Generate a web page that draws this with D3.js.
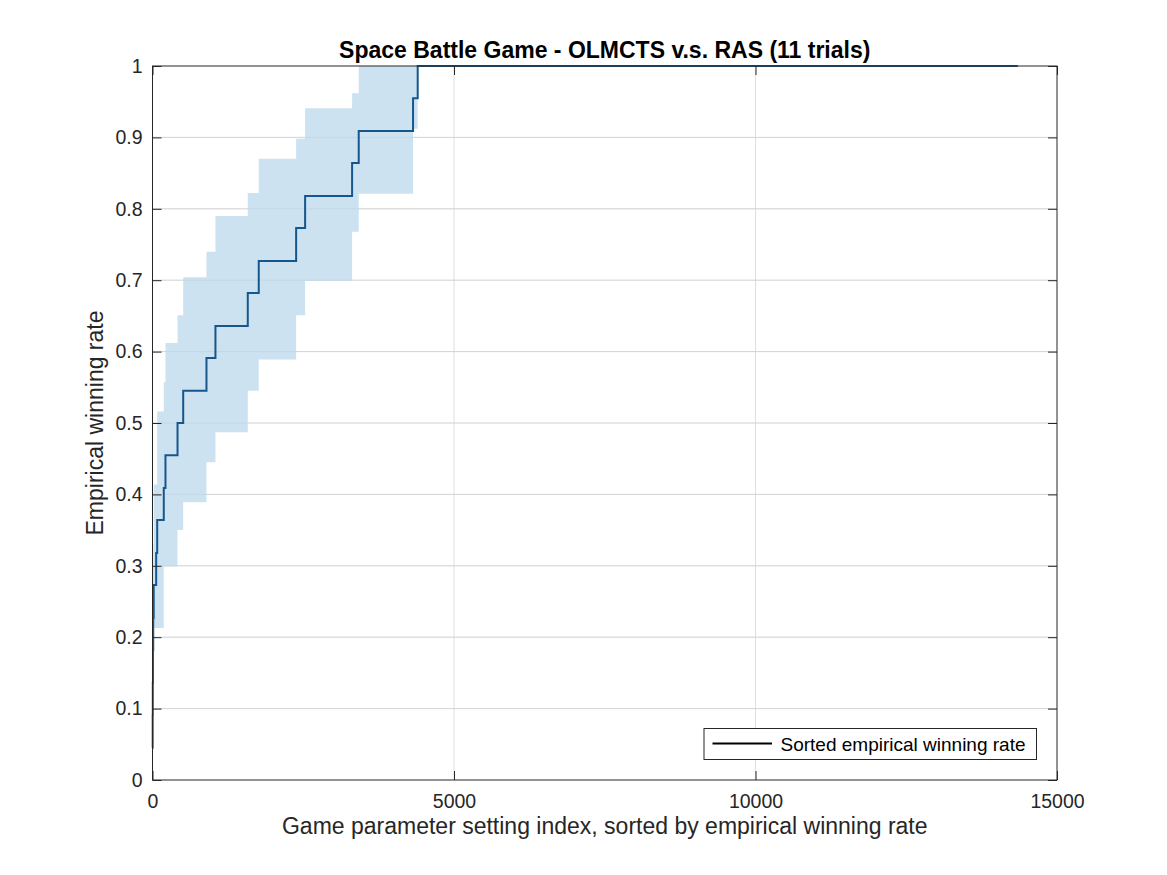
<!DOCTYPE html>
<html>
<head>
<meta charset="utf-8">
<script src="https://cdn.jsdelivr.net/npm/d3@7"></script>
<style>
  html, body { margin: 0; padding: 0; background: #fff; }
  svg { display: block; font-family: "Liberation Sans", Arial, Helvetica, sans-serif; }
</style>
</head>
<body>
<svg id="chart" width="1167" height="875"></svg>
<script>
// ---- data ----
const stepStart = [0, 3, 5, 8, 12, 20, 61, 78, 187, 215, 415, 509, 895, 1044, 1580, 1762, 2382, 2531, 3310, 3420, 4321, 4398];
const rateLevels = [0.045, 0.091, 0.136, 0.182, 0.227, 0.273, 0.318, 0.364, 0.409, 0.455, 0.5, 0.545, 0.591, 0.636, 0.682, 0.727, 0.773, 0.818, 0.864, 0.909, 0.955, 1.0];
const bandUpper = [0.20, 0.24, 0.27, 0.30, 0.33, 0.414, 0.414, 0.516, 0.557, 0.612, 0.651, 0.704, 0.740, 0.790, 0.822, 0.870, 0.898, 0.941, 0.962, 1.0, 1.0, 1.0];
const bandLower = [0.0, 0.03, 0.06, 0.09, 0.11, 0.213, 0.213, 0.213, 0.299, 0.299, 0.350, 0.389, 0.445, 0.487, 0.545, 0.589, 0.651, 0.699, 0.768, 0.821, 0.912, 1.0];
const lastIndex = 14350;
const xTicks = [0, 5000, 10000, 15000];
const yTicks = [0, 0.1, 0.2, 0.3, 0.4, 0.5, 0.6, 0.7, 0.8, 0.9, 1];
const titleText = "Space Battle Game - OLMCTS v.s. RAS (11 trials)";
const xLabel = "Game parameter setting index, sorted by empirical winning rate";
const yLabel = "Empirical winning rate";
const legendLabel = "Sorted empirical winning rate";

// ---- layout ----
const pL = 152.5, pR = 1057, pT = 66, pB = 780;
const svg = d3.select("#chart");
const x = d3.scaleLinear().domain([0, 15000]).range([pL, pR]);
const y = d3.scaleLinear().domain([0, 1]).range([pB, pT]);
const axisColor = "#262626";
const fontFam = "'Liberation Sans', Arial, Helvetica, sans-serif";

// grid
const grid = svg.append("g");
grid.selectAll("line.gx").data(xTicks.slice(1, -1)).join("line")
  .attr("x1", d => x(d)).attr("x2", d => x(d)).attr("y1", pT).attr("y2", pB)
  .attr("stroke", "#dfdfdf").attr("stroke-width", 1);
grid.selectAll("line.gy").data(yTicks.slice(1, -1)).join("line")
  .attr("y1", d => y(d)).attr("y2", d => y(d)).attr("x1", pL).attr("x2", pR)
  .attr("stroke", "#dfdfdf").attr("stroke-width", 1);

// band
const bandData = stepStart.map((s, i) => ({ x: s, lo: bandLower[i], hi: bandUpper[i] }));
const area = d3.area().curve(d3.curveStepAfter)
  .x(d => x(d.x)).y0(d => y(d.lo)).y1(d => y(d.hi));
svg.append("path").datum(bandData).attr("d", area)
  .attr("fill", "#cde2f1").attr("stroke", "none");

// grid lines showing faintly through the band
const grid2 = svg.append("g").attr("opacity", 0.35);
grid2.selectAll("line").data(yTicks.slice(1, -1)).join("line")
  .attr("y1", d => y(d)).attr("y2", d => y(d)).attr("x1", pL).attr("x2", pR)
  .attr("stroke", "#b8c4cc").attr("stroke-width", 1);

// step line
const lineData = stepStart.map((s, i) => ({ x: s, v: rateLevels[i] }));
lineData.push({ x: lastIndex, v: rateLevels[rateLevels.length - 1] });
const line = d3.line().curve(d3.curveStepAfter).x(d => x(d.x)).y(d => y(d.v));
svg.append("path").datum(lineData).attr("d", line)
  .attr("fill", "none").attr("stroke", "#15578d").attr("stroke-width", 2);

// axes box
svg.append("rect").attr("x", pL).attr("y", pT).attr("width", pR - pL).attr("height", pB - pT)
  .attr("fill", "none").attr("stroke", axisColor).attr("stroke-width", 1);

// axes with inward ticks
const tk = 9;
const xAxisB = d3.axisBottom(x).tickValues(xTicks).tickSize(-tk).tickPadding(14).tickFormat(d3.format("d"));
const gxb = svg.append("g").attr("transform", `translate(0,${pB})`).call(xAxisB);
const xAxisT = d3.axisTop(x).tickValues(xTicks).tickSize(-tk).tickFormat("");
const gxt = svg.append("g").attr("transform", `translate(0,${pT})`).call(xAxisT);
const yAxisL = d3.axisLeft(y).tickValues(yTicks).tickSize(-tk).tickPadding(10).tickFormat(d => String(+d.toFixed(1)));
const gyl = svg.append("g").attr("transform", `translate(${pL},0)`).call(yAxisL);
const yAxisR = d3.axisRight(y).tickValues(yTicks).tickSize(-tk).tickFormat("");
const gyr = svg.append("g").attr("transform", `translate(${pR},0)`).call(yAxisR);
[gxb, gxt, gyl, gyr].forEach(g => {
  g.select(".domain").remove();
  g.selectAll(".tick line").attr("stroke", axisColor);
  g.selectAll("text").attr("fill", axisColor).style("font-size", "19.5px").style("font-family", fontFam);
});

// title
svg.append("text").attr("x", (pL + pR) / 2).attr("y", 57.5).attr("text-anchor", "middle")
  .style("font-size", "23px").style("font-weight", "bold").attr("fill", "#000").text(titleText);

// axis labels
svg.append("text").attr("x", (pL + pR) / 2).attr("y", 833.5).attr("text-anchor", "middle")
  .style("font-size", "23px").attr("fill", axisColor).text(xLabel);
svg.append("text").attr("transform", `translate(102.5,${(pT + pB) / 2}) rotate(-90)`)
  .attr("text-anchor", "middle").style("font-size", "23px").attr("fill", axisColor).text(yLabel);

// legend
const lg = svg.append("g");
lg.append("rect").attr("x", 704).attr("y", 728.5).attr("width", 332.5).attr("height", 31)
  .attr("fill", "#fff").attr("stroke", axisColor).attr("stroke-width", 1);
lg.append("line").attr("x1", 712.5).attr("x2", 772).attr("y1", 743.5).attr("y2", 743.5)
  .attr("stroke", "#000").attr("stroke-width", 2);
lg.append("text").attr("x", 780.5).attr("y", 750.5).style("font-size", "19px").attr("fill", "#000").text(legendLabel);
</script>
</body>
</html>
